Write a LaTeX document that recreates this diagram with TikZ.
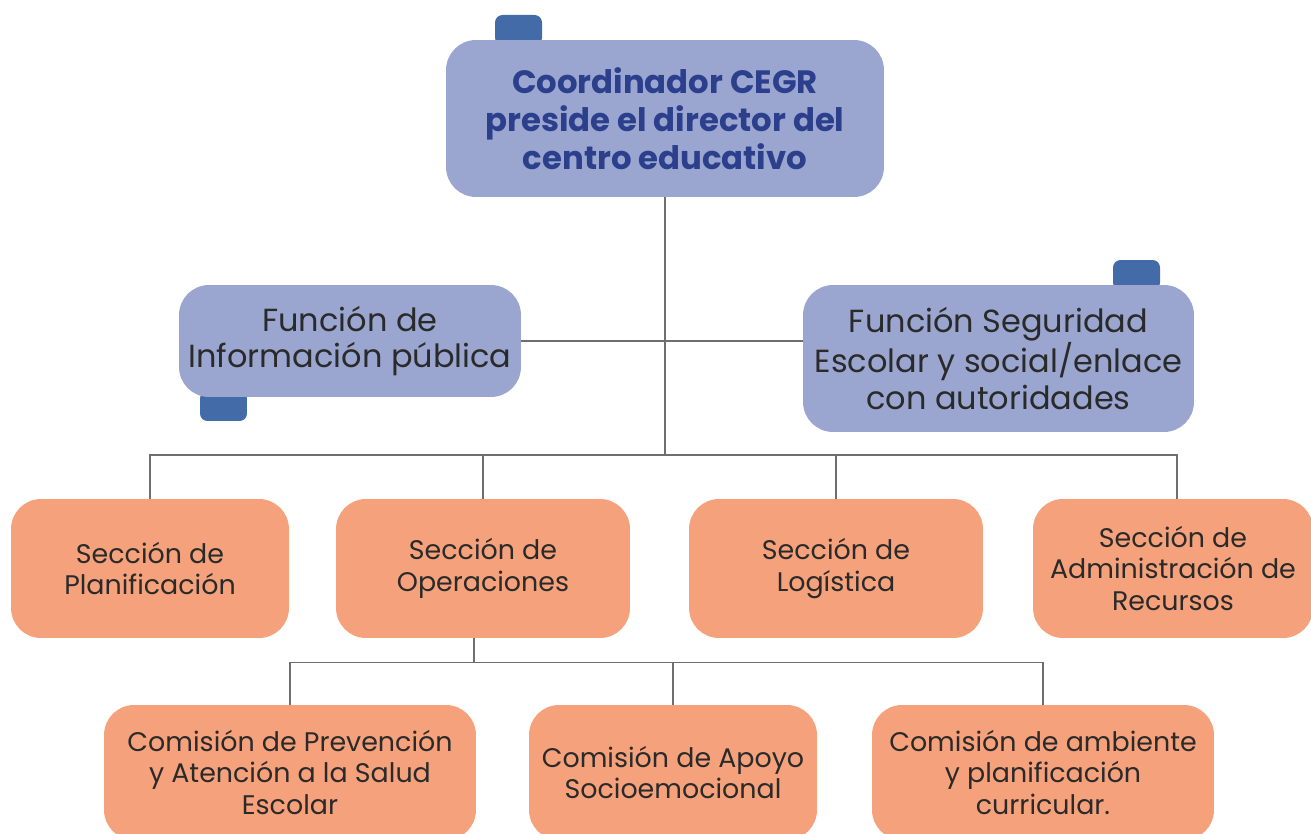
\documentclass[tikz,border=0pt]{standalone}
\usepackage{fontspec}
\setmainfont{Poppins}
\definecolor{fnblue}{HTML}{9AA6CF}
\definecolor{tabblue}{HTML}{436BA8}
\definecolor{secor}{HTML}{F5A17B}
\definecolor{txtblue}{HTML}{2B3F8C}
\definecolor{txtdark}{HTML}{2A2A2A}
\definecolor{linegray}{HTML}{6E6E6E}
\tikzset{
  box/.style={rounded corners=0.6cm, align=center, inner sep=0pt, text=txtdark},
  fnbox/.style={box, fill=fnblue, font=\fontsize{18.2}{20.8}\selectfont},
  secbox/.style={box, fill=secor, font=\fontsize{15.3}{18}\selectfont},
  tabbox/.style={rounded corners=0.15cm, fill=tabblue, inner sep=0pt, minimum width=0.94cm, minimum height=0.6cm},
  conn/.style={draw=linegray, line width=0.85pt}
}
\begin{document}
\begin{tikzpicture}[x=0.02cm, y=-0.02cm]
\clip (0,0) rectangle (1311,834);
% tabs
\node[tabbox] (tabtop) at (518.5,30) {};
\node[tabbox] (tableft) at (223.5,406) {};
\node[tabbox] (tabright) at (1136.5,275) {};
% top box
\node[fnbox, minimum width=8.76cm, minimum height=3.14cm, text=txtblue,
      font=\fontsize{18.4}{21.8}\selectfont\bfseries] (top) at (665,118.5)
  {Coordinador CEGR\\preside el director del\\centro educativo};
% function boxes
\node[fnbox, minimum width=6.84cm, minimum height=2.24cm] (fl) at (350,341)
  {Función de\\Información pública};
\node[fnbox, minimum width=7.82cm, minimum height=2.94cm] (fr) at (998.5,358.5)
  {Función Seguridad\\Escolar y social/enlace\\con autoridades};
% sections
\node[secbox, minimum width=5.56cm, minimum height=2.78cm] (plan) at (150,568.5)
  {Sección de\\Planificación};
\node[secbox, minimum width=5.88cm, minimum height=2.78cm] (ops) at (483,568.5)
  {Sección de\\Operaciones};
\node[secbox, minimum width=5.88cm, minimum height=2.78cm] (log) at (836,568.5)
  {Sección de\\Logística};
\node[secbox, minimum width=5.6cm, minimum height=2.78cm] (adm) at (1173,568.5)
  {Sección de\\Administración de\\Recursos};
% commissions
\node[secbox, minimum width=7.44cm, minimum height=2.7cm] (prev) at (290,772.5)
  {Comisión de Prevención\\y Atención a la Salud\\Escolar};
\node[secbox, minimum width=5.76cm, minimum height=2.7cm] (apoyo) at (673,772.5)
  {Comisión de Apoyo\\Socioemocional};
\node[secbox, minimum width=6.84cm, minimum height=2.7cm] (amb) at (1043,772.5)
  {Comisión de ambiente\\y planificación\\curricular.};
% connectors
\coordinate (bus) at (665,455);
\coordinate (opsout) at (474,638);
\draw[conn] (top.south) -- (bus);
\draw[conn] (fl.east) -- (fl.east -| fr.west);
\draw[conn] (plan.north) |- (bus) -| ([xshift=0.08cm]adm.north);
\draw[conn] (ops.north) -- (ops.north |- bus);
\draw[conn] (log.north) -- (log.north |- bus);
\draw[conn] (opsout) -- ++(0,25);
\draw[conn] (prev.north) -- ++(0,-42) -| (amb.north);
\draw[conn] (apoyo.north) -- ++(0,-42);
\end{tikzpicture}
\end{document}
